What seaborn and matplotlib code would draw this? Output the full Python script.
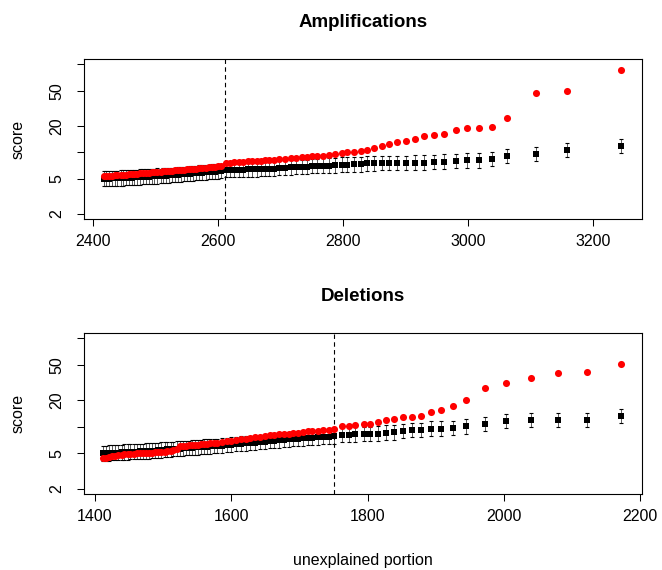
"""
Amplification / deletion score plots.
"""

import matplotlib
matplotlib.use("Agg")

import matplotlib.pyplot as plt
import pandas as pd
import seaborn as sns
from matplotlib.ticker import NullLocator


# amplifications panel
amp_x = [
    2417, 2421, 2426, 2430, 2435, 2439, 2444, 2448, 2453, 2457,
    2462, 2466, 2471, 2475, 2480, 2485, 2489, 2494, 2498, 2503,
    2508, 2512, 2517, 2522, 2526, 2531, 2536, 2541, 2546, 2550,
    2555, 2560, 2565, 2570, 2575, 2580, 2585, 2590, 2595, 2600,
    2605,
    2612, 2619, 2626, 2634, 2640, 2648, 2655, 2662, 2668, 2675,
    2682, 2690, 2698, 2707, 2716, 2725, 2734, 2743, 2751, 2759,
    2768, 2777, 2787, 2798,
    2807, 2818, 2828, 2839, 2850, 2862, 2874, 2887, 2900, 2915,
    2930, 2945, 2962, 2980, 2999, 3018, 3038, 3062, 3109, 3158,
    3245,
]
amp_red = [
    5.30, 5.33, 5.37, 5.40, 5.44, 5.47, 5.50, 5.54, 5.57, 5.61,
    5.64, 5.68, 5.71, 5.75, 5.79, 5.83, 5.86, 5.90, 5.94, 5.98,
    6.02, 6.06, 6.10, 6.14, 6.18, 6.22, 6.26, 6.30, 6.35, 6.39,
    6.43, 6.48, 6.52, 6.57, 6.62, 6.67, 6.72, 6.78, 6.84, 6.92,
    7.00,
    7.50, 7.58, 7.65, 7.72, 7.78, 7.85, 7.92, 7.98, 8.04, 8.10,
    8.18, 8.26, 8.36, 8.46, 8.56, 8.66, 8.76, 8.86, 8.96, 9.06,
    9.18, 9.32, 9.50, 9.80,
    10.0, 10.1, 10.3, 10.6, 11.1, 11.9, 12.3, 13.2, 13.5, 14.2,
    15.2, 15.7, 16.2, 17.7, 19.0, 19.0, 19.5, 24.5, 46.8, 49.7,
    86.0,
]
amp_black = [
    5.00, 5.00, 5.02, 5.04, 5.05, 5.07, 5.08, 5.10, 5.12, 5.14,
    5.15, 5.17, 5.20, 5.22, 5.24, 5.26, 5.28, 5.30, 5.33, 5.36,
    5.38, 5.40, 5.43, 5.46, 5.50, 5.53, 5.56, 5.60, 5.64, 5.68,
    5.72, 5.76, 5.80, 5.84, 5.88, 5.92, 5.96, 6.00, 6.03, 6.06,
    6.10,
    6.25, 6.27, 6.30, 6.32, 6.35, 6.37, 6.40, 6.40, 6.42, 6.44,
    6.46, 6.50, 6.68, 6.70, 6.73, 6.76, 6.80, 6.83, 6.98, 7.00,
    7.03, 7.05, 7.10, 7.20,
    7.25, 7.28, 7.30, 7.45, 7.48, 7.50, 7.50, 7.52, 7.55, 7.60,
    7.62, 7.70, 7.80, 7.94, 8.10, 8.10, 8.37, 8.97, 9.46, 10.5,
    11.75,
]
# multiplicative half-width of the error bars around the black squares
amp_err = [
    1.22, 1.22, 1.22, 1.22, 1.22, 1.22, 1.22, 1.22, 1.22, 1.22,
    1.22, 1.22, 1.22, 1.22, 1.22, 1.22, 1.22, 1.22, 1.22, 1.22,
    1.21, 1.21, 1.21, 1.21, 1.21, 1.21, 1.21, 1.21, 1.21, 1.21,
    1.21, 1.21, 1.21, 1.21, 1.21, 1.21, 1.21, 1.21, 1.21, 1.21,
    1.21,
    1.21, 1.21, 1.21, 1.21, 1.21, 1.21, 1.21, 1.21, 1.21, 1.21,
    1.21, 1.21, 1.21, 1.21, 1.21, 1.21, 1.21, 1.21, 1.21, 1.21,
    1.21, 1.21, 1.21, 1.21,
    1.21, 1.21, 1.21, 1.21, 1.21, 1.21, 1.21, 1.21, 1.21, 1.21,
    1.21, 1.21, 1.21, 1.21, 1.21, 1.21, 1.21, 1.20, 1.20, 1.20,
    1.20,
]
amp_cut = 2611

# deletions panel
del_x = [
    1412, 1416, 1421, 1425, 1430, 1434, 1439, 1443, 1448, 1452,
    1457, 1461, 1466, 1470, 1475, 1479, 1484, 1488, 1493, 1497,
    1502, 1506, 1511, 1515, 1520, 1524, 1529, 1533, 1538, 1542,
    1547, 1551, 1556, 1560, 1565, 1569, 1574, 1579,
    1586, 1593, 1600, 1607, 1614, 1621, 1628, 1635, 1642, 1649,
    1656, 1663, 1670, 1677, 1684, 1691, 1698, 1705, 1712, 1719,
    1727, 1735, 1743, 1751,
    1762, 1772, 1782, 1794, 1803, 1815, 1827, 1839, 1852, 1865,
    1878, 1893, 1907, 1925, 1944, 1972, 2003, 2039, 2079, 2121,
    2172,
]
del_red = [
    4.40, 4.48, 4.56, 4.63, 4.70, 4.76, 4.82, 4.87, 4.92, 4.95,
    4.98, 5.00, 5.02, 5.04, 5.06, 5.08, 5.11, 5.14, 5.17, 5.20,
    5.25, 5.32, 5.40, 5.48, 5.55, 6.05, 6.10, 6.15, 6.19, 6.23,
    6.27, 6.31, 6.35, 6.40, 6.45, 6.50, 6.55, 6.60,
    6.70, 6.85, 7.00, 7.12, 7.25, 7.37, 7.48, 7.62, 7.76, 7.88,
    8.00, 8.10, 8.20, 8.30, 8.40, 8.50, 8.62, 8.74, 8.86, 8.96,
    9.05, 9.15, 9.25, 9.37,
    10.2, 10.3, 10.6, 10.8, 10.9, 11.2, 11.9, 12.4, 12.8, 12.9,
    13.3, 14.6, 15.6, 17.3, 20.0, 27.7, 31.3, 36.0, 40.6, 41.7,
    51.4,
]
del_black = [
    5.02, 5.04, 5.06, 5.08, 5.10, 5.12, 5.15, 5.18, 5.20, 5.22,
    5.24, 5.26, 5.28, 5.30, 5.32, 5.34, 5.37, 5.40, 5.44, 5.48,
    5.52, 5.55, 5.58, 5.62, 5.65, 5.68, 5.72, 5.75, 5.78, 5.82,
    5.85, 5.88, 5.92, 5.95, 5.98, 6.02, 6.05, 6.08,
    6.15, 6.22, 6.30, 6.38, 6.45, 6.50, 6.56, 6.65, 6.74, 6.82,
    6.90, 6.98, 7.05, 7.12, 7.20, 7.28, 7.35, 7.42, 7.50, 7.56,
    7.62, 7.68, 7.74, 7.80,
    8.10, 8.10, 8.20, 8.30, 8.30, 8.37, 8.60, 8.70, 9.00, 9.20,
    9.20, 9.50, 9.55, 9.70, 10.1, 10.8, 11.5, 11.9, 12.1, 12.1,
    13.1,
]
del_err = [
    1.22, 1.22, 1.22, 1.22, 1.22, 1.22, 1.22, 1.22, 1.22, 1.22,
    1.22, 1.22, 1.22, 1.22, 1.22, 1.22, 1.22, 1.22, 1.22, 1.22,
    1.21, 1.21, 1.21, 1.21, 1.21, 1.21, 1.21, 1.21, 1.21, 1.21,
    1.21, 1.21, 1.21, 1.21, 1.21, 1.21, 1.21, 1.21,
    1.21, 1.21, 1.21, 1.21, 1.21, 1.21, 1.21, 1.21, 1.21, 1.21,
    1.21, 1.21, 1.21, 1.21, 1.21, 1.21, 1.21, 1.21, 1.21, 1.21,
    1.21, 1.21, 1.21, 1.21,
    1.21, 1.21, 1.21, 1.21, 1.21, 1.21, 1.21, 1.21, 1.21, 1.21,
    1.21, 1.21, 1.21, 1.21, 1.21, 1.20, 1.20, 1.20, 1.20, 1.20,
    1.20,
]
del_cut = 1751

y_ticks = [2, 5, 10, 20, 50, 100]
y_tick_labels = ["2", "5", "", "20", "50", ""]
amp_xticks = [2400, 2600, 2800, 3000, 3200]
del_xticks = [1400, 1600, 1800, 2000, 2200]


def draw_panel(ax, x, red, black, err, cut, title, xlim, xticks):

    df = pd.DataFrame({"x": x, "red": red, "black": black, "err": err})

    lo = df["black"] - df["black"] / df["err"]
    hi = df["black"] * df["err"] - df["black"]

    ax.errorbar(
        df["x"], df["black"],
        yerr=[lo, hi],
        fmt="none",
        ecolor="black",
        elinewidth=0.45,
        capsize=1.6,
        capthick=0.8,
        zorder=2
    )

    sns.scatterplot(
        data=df, x="x", y="black",
        marker="s", color="black", s=13, linewidth=0,
        ax=ax, zorder=3
    )

    sns.scatterplot(
        data=df, x="x", y="red",
        marker="o", color="#ff0000", s=26, linewidth=0,
        ax=ax, zorder=4
    )

    ax.axvline(cut, color="black", lw=0.8, ls=(0, (4, 3)), zorder=1)

    ax.set_yscale("log")
    ax.set_ylim(1.74, 115)
    ax.set_yticks(y_ticks, labels=y_tick_labels, rotation=90, va="center")
    ax.yaxis.set_minor_locator(NullLocator())

    ax.set_xlim(*xlim)
    ax.set_xticks(xticks)

    ax.tick_params(
        direction="out", length=5, width=0.75,
        labelsize=11.5, color="black", labelcolor="black"
    )
    ax.tick_params(axis="x", pad=6)
    ax.tick_params(axis="y", pad=9)

    for side in ["top", "right", "bottom", "left"]:
        ax.spines[side].set_visible(True)
        ax.spines[side].set_color("black")
        ax.spines[side].set_linewidth(0.8)

    ax.set_title(title, fontsize=13.5, fontweight="bold", pad=23, color="black")
    ax.set_ylabel("score", fontsize=11.5, labelpad=17, color="black")
    ax.set_xlabel("")


def run_plot():

    sns.set_theme(style="ticks")
    plt.rcParams["font.family"] = ["Liberation Sans", "DejaVu Sans"]
    plt.rcParams["text.color"] = "black"
    plt.rcParams["axes.labelcolor"] = "black"

    fig = plt.figure(figsize=(6.62, 5.7), dpi=100)

    ax_amp = fig.add_axes([0.1269, 0.6158, 0.8429, 0.2807])
    ax_del = fig.add_axes([0.1269, 0.1333, 0.8429, 0.2825])

    draw_panel(
        ax_amp, amp_x, amp_red, amp_black, amp_err, amp_cut,
        "Amplifications", (2385.6, 3278.4), amp_xticks
    )

    draw_panel(
        ax_del, del_x, del_red, del_black, del_err, del_cut,
        "Deletions", (1383.9, 2202.4), del_xticks
    )

    ax_del.set_xlabel(
        "unexplained portion", fontsize=11.5, labelpad=20.5, color="black"
    )

    fig.savefig("out.png", dpi=100)


if __name__ == "__main__":
    run_plot()
